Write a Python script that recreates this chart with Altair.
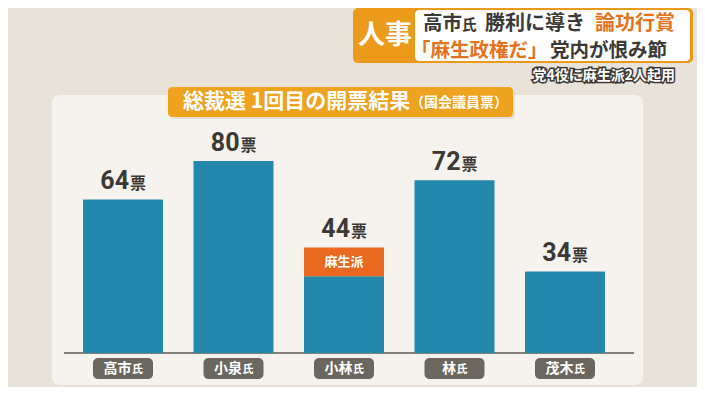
import altair as alt
import pandas as pd

# ---- data ----
names = ["高市", "小泉", "小林", "林", "茂木"]
honorific = "氏"
totals = [64, 80, 44, 72, 34]
main_votes = [64, 80, 32, 72, 34]
aso_votes = [0, 0, 12, 0, 0]
aso_label = "麻生派"
unit = "票"

title_main = "総裁選 1回目の開票結果"
title_sub = "（国会議員票）"
tag = "人事"
head1 = ["高市", "氏", "勝利に導き", "論功行賞"]
head2 = ["「麻生政権だ」", "党内が恨み節"]
subhead = "党4役に麻生派2人起用"

# ---- styling ----
JP = "Noto Sans CJK JP"
BLUE = "#2488ad"
ORANGE = "#e8691f"
GOLD = "#eea21d"
DARK = "#3b3835"
LABELBOX = "#6b675f"
BG = "#e9e2d9"
PANEL = "#f6f3ee"

cands = pd.DataFrame({
    "name": names,
    "total": totals,
    "label": [str(t) for t in totals],
    "n": [len(s) for s in names],
})

rows = []
for nm, m, a in zip(names, main_votes, aso_votes):
    rows.append({"name": nm, "start": 0, "end": m, "part": "main", "txt": ""})
    if a > 0:
        rows.append({"name": nm, "start": m, "end": m + a, "part": "aso", "txt": aso_label})
segs = pd.DataFrame(rows)

x_scale = alt.Scale(domain=names, range=[59.75, 612.25], paddingInner=0.276, paddingOuter=0.138)
y_scale = alt.Scale(domain=[0, 80], range=[345, 153], nice=False, zero=True)
X = alt.X("name:N", sort=names, scale=x_scale, axis=None)

one = pd.DataFrame({"k": [0]})


def box(x1, x2, y1, y2, color, r=0, opacity=1):
    return alt.Chart(one).mark_rect(color=color, cornerRadius=r, opacity=opacity).encode(
        x=alt.value(x1), x2=alt.value(x2), y=alt.value(y1), y2=alt.value(y2))


def txt(s, x, y, size, color, align="left", weight="bold", **kw):
    return alt.Chart(one).mark_text(text=s, align=align, baseline="middle", font=JP,
                                    fontSize=size, fontWeight=weight, color=color, **kw).encode(
        x=alt.value(x), y=alt.value(y))


layers = []
# panel
layers.append(box(44, 635, 87, 377, PANEL, r=8))
# axis line
layers.append(alt.Chart(one).mark_rule(color="#5c5852", strokeWidth=1.5).encode(
    x=alt.value(56), x2=alt.value(626), y=alt.value(345)))
# title box
layers.append(box(162, 507, 81, 111, "#d9d2c8", r=4, opacity=0.6))
layers.append(box(160, 505, 79, 109, GOLD, r=4))
layers.append(txt(title_main, 175, 94, 21, "white"))
layers.append(txt(title_sub, 402, 95, 14, "white"))

# header
layers.append(box(345, 685, 0, 55, "#eb9a1c", r=5))
layers.append(box(407, 682, 2, 53, "white", r=4))
layers.append(alt.Chart(one).mark_text(text=tag, align="center", baseline="middle", font=JP,
                                       fontSize=27, fontWeight="bold", color="white").encode(
    x=alt.value(377), y=alt.value(28)))
layers.append(txt(head1[0], 415, 16, 19.5, DARK))
layers.append(txt(head1[1], 454, 18, 14.5, DARK))
layers.append(txt(head1[2], 477, 16, 20, DARK))
layers.append(txt(head1[3], 587, 16, 20, "#e6731c"))
layers.append(txt(head2[0], 403, 43, 19.5, "#e6731c"))
layers.append(txt(head2[1], 542, 43, 19.5, DARK))
sub_y = 68
layers.append(alt.Chart(one).mark_text(text=subhead, align="right", baseline="middle", font=JP,
                                       fontSize=14, fontWeight="bold", color="#3a3632",
                                       stroke="#3a3632", strokeWidth=3).encode(
    x=alt.value(667), y=alt.value(sub_y)))
layers.append(txt(subhead, 667, sub_y, 14, "white", align="right"))

# bars
layers.append(alt.Chart(segs).mark_bar().encode(
    x=X,
    y=alt.Y("start:Q", scale=y_scale, axis=None),
    y2="end:Q",
    color=alt.Color("part:N", scale=alt.Scale(domain=["main", "aso"], range=[BLUE, ORANGE]), legend=None),
))
# aso label
layers.append(alt.Chart(segs).transform_filter("datum.txt != ''").transform_calculate(
    mid="(datum.start + datum.end) / 2").mark_text(
    font=JP, fontSize=13, fontWeight="bold", color="white", baseline="middle").encode(
    x=X, y=alt.Y("mid:Q", scale=y_scale, axis=None), text="txt:N"))

# value labels
layers.append(alt.Chart(cands).mark_text(
    align="right", baseline="alphabetic", dx=6, dy=-10, font="Roboto", fontSize=25,
    fontWeight="bold", color=DARK).encode(
    x=X, y=alt.Y("total:Q", scale=y_scale, axis=None), text="label:N"))
layers.append(alt.Chart(cands).mark_text(
    text=unit, align="left", baseline="alphabetic", dx=7, dy=-10, font=JP, fontSize=16,
    fontWeight="bold", color=DARK).encode(
    x=X, y=alt.Y("total:Q", scale=y_scale, axis=None)))

# category label boxes
layers.append(alt.Chart(cands).mark_bar(width=alt.RelativeBandSize(0.75), cornerRadius=5,
                                        color=LABELBOX).encode(
    x=X, y=alt.value(350), y2=alt.value(371)))
for n_chars, dx in [(2, 8.5), (1, 1.5)]:
    base = alt.Chart(cands).transform_filter(f"datum.n == {n_chars}")
    layers.append(base.mark_text(align="right", baseline="middle", dx=dx, font=JP, fontSize=14,
                                 fontWeight="bold", color="white").encode(
        x=X, y=alt.value(361), text="name:N"))
    layers.append(base.mark_text(text=honorific, align="left", baseline="middle", dx=dx + 0.5,
                                 dy=1, font=JP, fontSize=11, fontWeight="bold", color="white").encode(
        x=X, y=alt.value(361)))

chart = alt.layer(*layers).properties(
    width=689, height=379, padding=0,
    autosize=alt.AutoSizeParams(type="none"),
    background=BG,
).configure_view(stroke=None)

chart.save("out.html", embed_options={"renderer": "svg", "actions": False})
